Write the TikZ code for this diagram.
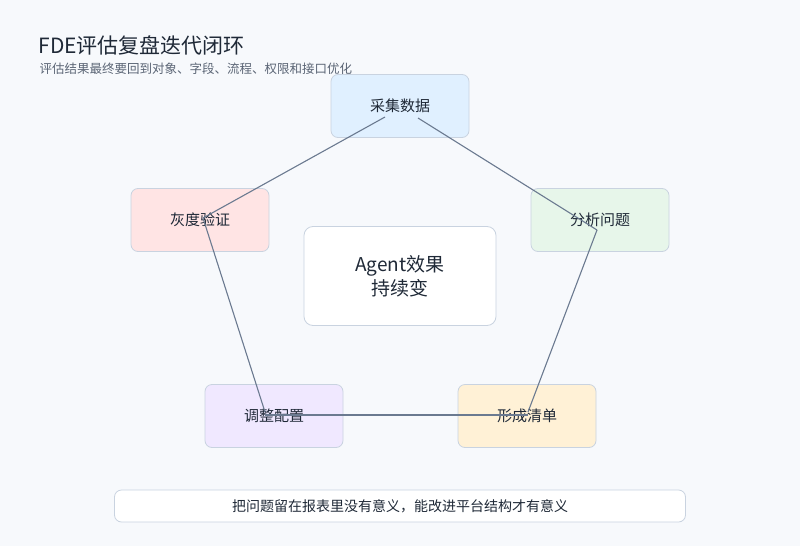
\documentclass[tikz,border=0pt]{standalone}
\usepackage{fontspec}
\setmainfont{Noto Sans CJK SC}
\usepackage{xcolor}
\definecolor{bgc}{HTML}{F7F9FC}
\definecolor{edgec}{HTML}{C9D3E0}
\definecolor{linec}{HTML}{6B7A90}
\definecolor{textc}{HTML}{1F2937}
\definecolor{subc}{HTML}{5B6575}
\definecolor{bluef}{HTML}{E0F0FF}
\definecolor{greenf}{HTML}{E7F6EA}
\definecolor{orangef}{HTML}{FFF1D6}
\definecolor{violetf}{HTML}{F0E8FF}
\definecolor{redf}{HTML}{FFE4E4}
\tikzset{
  stage/.style={draw=edgec,rounded corners=7pt,minimum width=138pt,minimum height=63pt,font=\fontsize{15}{17}\selectfont,text=textc,line width=0.8pt},
  ring/.style={draw=linec,line width=1.1pt}
}
\begin{document}
\begin{tikzpicture}[x=1pt,y=-1pt]
	\fill[bgc] (0,0) rectangle (800,546);
	\useasboundingbox (0,0) rectangle (800,546);
	\node[anchor=west,text=textc,font=\fontsize{21}{24}\selectfont] (title) at (35,45) {FDE评估复盘迭代闭环};
	\node[anchor=west,text=subc,font=\fontsize{12.5}{14}\selectfont] (sub) at (36,69) {评估结果最终要回到对象、字段、流程、权限和接口优化};
	\node[stage,fill=bluef] (collect) at (400,106) {采集数据};
	\node[stage,fill=greenf] (analyze) at (600,220) {分析问题};
	\node[stage,fill=orangef] (list) at (527,416) {形成清单};
	\node[stage,fill=violetf] (tune) at (274,416) {调整配置};
	\node[stage,fill=redf] (gray) at (200,220) {灰度验证};
	\node[draw=edgec,fill=white,rounded corners=9pt,minimum width=192pt,minimum height=99pt,line width=0.8pt,font=\fontsize{19}{24}\selectfont,text=textc,align=center] (core) at (400,276) {Agent效果\\持续变};
	\node[draw=edgec,fill=white,rounded corners=7pt,minimum width=571pt,minimum height=32pt,line width=0.8pt,font=\fontsize{14}{16}\selectfont,text=textc] (note) at (400,506) {把问题留在报表里没有意义，能改进平台结构才有意义};
	\draw[ring] ([shift={(-15,11)}]collect.center) -- ([shift={(3,-2)}]gray.center);
	\draw[ring] ([shift={(18,12)}]collect.center) -- ([shift={(-3,10)}]analyze.center);
	\draw[ring] ([shift={(-3,10)}]analyze.center) -- ([shift={(1,-4)}]list.center);
	\draw[ring] ([shift={(1,-1)}]list.center) -- ([shift={(-9,-1)}]tune.center);
	\draw[ring] ([shift={(-9,-4)}]tune.center) -- ([shift={(3,-2)}]gray.center);
\end{tikzpicture}
\end{document}
